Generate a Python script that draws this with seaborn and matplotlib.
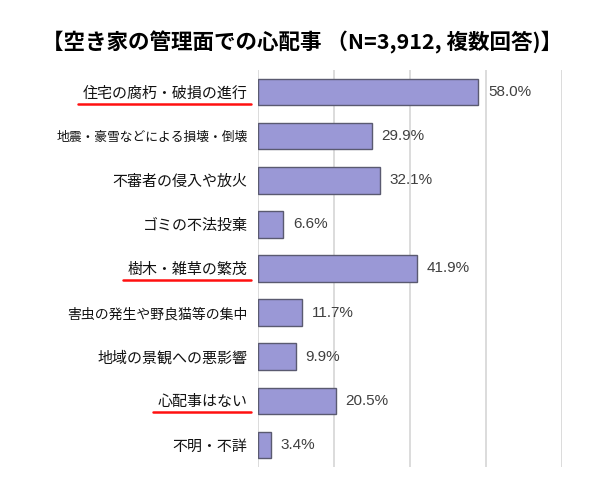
import matplotlib
matplotlib.use("Agg")
import matplotlib.pyplot as plt
import seaborn as sns
from matplotlib.lines import Line2D

categories = [
    "住宅の腐朽・破損の進行",
    "地震・豪雪などによる損壊・倒壊",
    "不審者の侵入や放火",
    "ゴミの不法投棄",
    "樹木・雑草の繁茂",
    "害虫の発生や野良猫等の集中",
    "地域の景観への悪影響",
    "心配事はない",
    "不明・不詳",
]
values = [58.0, 29.9, 32.1, 6.6, 41.9, 11.7, 9.9, 20.5, 3.4]
underlined = ["住宅の腐朽・破損の進行", "樹木・雑草の繁茂", "心配事はない"]
title = "【空き家の管理面での心配事 （N=3,912, 複数回答)】"

sns.set_style("white")
plt.rcParams['font.family'] = ['Noto Sans CJK JP', 'DejaVu Sans']

fig = plt.figure(figsize=(6.13, 5.01), dpi=100)
ax = fig.add_axes([258 / 613, 34 / 501, 304 / 613, 397 / 501])

sns.barplot(x=values, y=categories, orient="h", color="#9a98d6",
            saturation=1, edgecolor="#5a5a70", linewidth=1.0, width=0.6, ax=ax)

ax.set_xlim(0, 80)
ax.set_xticks([0, 20, 40, 60, 80])
ax.xaxis.grid(True, color="#d9d9d9", linewidth=1.3)
ax.set_axisbelow(True)
ax.tick_params(axis="x", bottom=False, labelbottom=False)
ax.tick_params(axis="y", left=False, pad=4)
ax.set_xlabel("")
ax.set_ylabel("")
for s in ax.spines.values():
    s.set_visible(False)

# per-label sizes: the long ones are condensed in the original
sizes = {"地震・豪雪などによる損壊・倒壊": 9.2, "害虫の発生や野良猫等の集中": 10.0}
for lab in ax.get_yticklabels():
    lab.set_fontsize(sizes.get(lab.get_text(), 10.8))
    lab.set_color("#111111")

ax.bar_label(ax.containers[0], fmt="%.1f%%", padding=7, fontsize=11,
             color="#404040", family=["Liberation Sans", "DejaVu Sans"])

fig.text(0.492, 0.916, title, ha="center", va="center", fontsize=15.5,
         fontweight="bold", color="black")

# red underlines under the highlighted labels
fig.canvas.draw()
renderer = fig.canvas.get_renderer()
for lab in ax.get_yticklabels():
    if lab.get_text() in underlined:
        bb = lab.get_window_extent(renderer)
        y = bb.y0 - 3
        fig.add_artist(Line2D([bb.x0 - 5, bb.x1 + 3], [y, y], transform=None,
                              color="#ff1010", linewidth=1.8))

fig.savefig("out.png", dpi=100)
